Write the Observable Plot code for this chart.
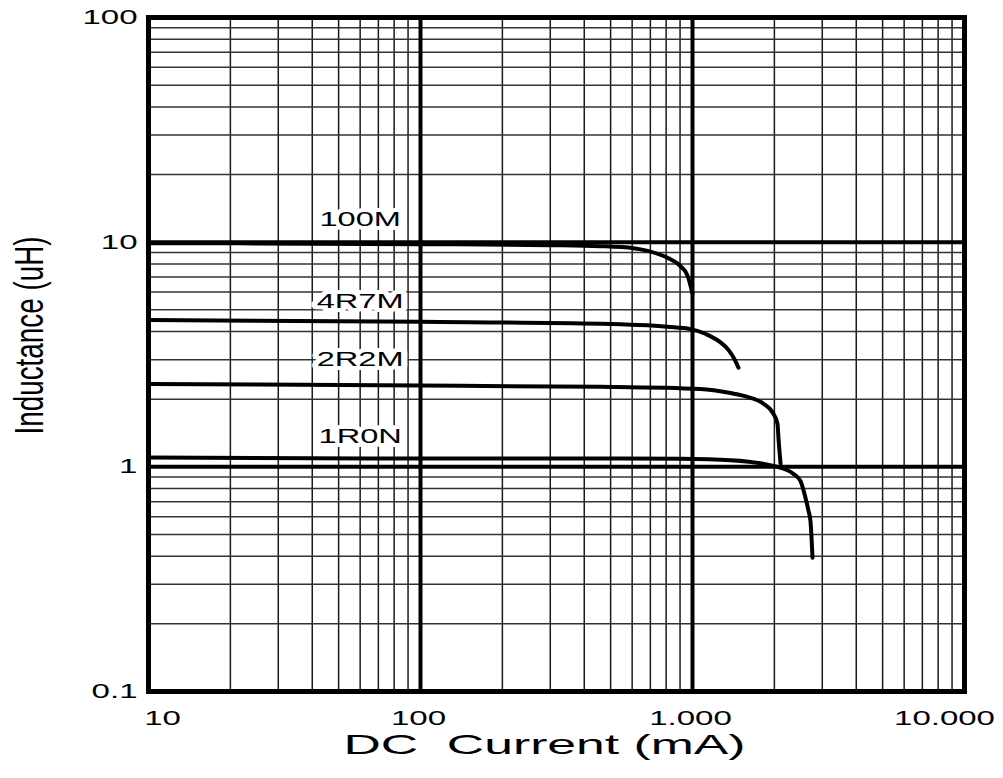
<!DOCTYPE html>
<html>
<head>
<meta charset="utf-8">
<script src="https://cdn.jsdelivr.net/npm/d3@7"></script>
<script src="https://cdn.jsdelivr.net/npm/@observablehq/plot@0.6"></script>
<style>
  html, body { margin: 0; padding: 0; background: #fff; }
  #chart svg { display: block; font-family: "Liberation Sans", Arial, sans-serif; }
</style>
</head>
<body>
<div id="chart"></div>
<script>
// ---- Data ----
const seriesNames = ["100M", "4R7M", "2R2M", "1R0N"];

const current100M = [10, 100, 300, 459, 607, 684, 809, 903, 959, 1000];
const induct100M  = [9.9, 9.8, 9.7, 9.6, 9.4, 9.15, 8.52, 7.83, 7.1, 5.89];

const current4R7M = [10, 100, 459, 809, 985, 1120, 1260, 1360, 1430, 1476];
const induct4R7M  = [4.5, 4.42, 4.33, 4.2, 4.1, 3.9, 3.6, 3.3, 3.0, 2.76];

const current2R2M = [10, 100, 459, 1069, 1380, 1592, 1824, 1985, 2054, 2070, 2108];
const induct2R2M  = [2.34, 2.3, 2.27, 2.22, 2.13, 2.05, 1.91, 1.72, 1.55, 1.35, 1.03];

const current1R0N = [10, 100, 459, 903, 1380, 1985, 2350, 2493, 2601, 2670, 2714, 2762];
const induct1R0N  = [1.1, 1.09, 1.09, 1.085, 1.07, 1.01, 0.93, 0.866, 0.73, 0.637, 0.575, 0.394];

// label anchors (data space)
const labelCurrent = [60, 60, 60, 60];
const labelInduct  = [12.7, 5.48, 3.02, 1.37];

const xTicks = [10, 100, 1000, 10000];
const xTickLabels = ["10", "100", "1.000", "10.000"];
const yTicks = [0.1, 1, 10, 100];
const yTickLabels = ["0.1", "1", "10", "100"];

const xMinor = [20,30,40,50,60,70,80,90,200,300,400,500,600,700,800,900,2000,3000,4000,5000,6000,7000,8000,9000];
const yMinor = [0.2,0.3,0.4,0.5,0.6,0.7,0.8,0.9,2,3,4,5,6,7,8,9,20,30,40,50,60,70,80,90];
const xMajor = [100, 1000];
const yMajor = [1, 10];

const xTitle = "DC  Current (mA)";
const yTitle = "Inductance (uH)";

// ---- Build table ----
const allCurrents = [current100M, current4R7M, current2R2M, current1R0N];
const allInducts = [induct100M, induct4R7M, induct2R2M, induct1R0N];
const rows = [];
seriesNames.forEach((s, k) => {
  allCurrents[k].forEach((c, i) => rows.push({series: s, I: c, L: allInducts[k][i]}));
});
const labels = seriesNames.map((s, i) => ({name: s, I: labelCurrent[i], L: labelInduct[i]}));

const chart = Plot.plot({
  width: 1003,
  height: 778,
  marginLeft: 148,
  marginRight: 39,
  marginTop: 17,
  marginBottom: 87,
  x: {type: "log", domain: [10, 10000], axis: null},
  y: {type: "log", domain: [0.1, 100], axis: null},
  marks: [
    Plot.ruleX(xMinor, {stroke: "#1a1a1a", strokeWidth: 1.5}),
    Plot.ruleY(yMinor, {stroke: "#333", strokeWidth: 1.5}),
    Plot.ruleX(xMajor, {stroke: "#000", strokeWidth: 4}),
    Plot.ruleY(yMajor, {stroke: "#000", strokeWidth: 4}),
    Plot.frame({stroke: "#000", strokeWidth: 5}),
    Plot.line(rows, {x: "I", y: "L", z: "series", stroke: "#000", strokeWidth: 4, curve: "monotone-x", strokeLinecap: "round"}),
    Plot.text(labels, {x: "I", y: "L", text: "name", fontSize: 21, fill: "#000", stroke: "#fff", strokeWidth: 8, className: "wide"}),
    // x tick labels
    Plot.text([xTicks[0]], {x: d => d, y: yTicks[0], text: () => xTickLabels[0], dy: 27, dx: 14, fontSize: 20, className: "wider"}),
    Plot.text(xTicks.slice(1, 3), {x: d => d, y: yTicks[0], text: (d, i) => xTickLabels[i + 1], dy: 27, dx: -2, fontSize: 20, className: "wider"}),
    Plot.text([xTicks[3]], {x: d => d, y: yTicks[0], text: () => xTickLabels[3], dy: 27, dx: -20, fontSize: 20, className: "wider"}),
    // y tick labels
    Plot.text(yTicks, {x: xTicks[0], y: d => d, text: (d, i) => yTickLabels[i], textAnchor: "end", dx: -11, fontSize: 20, className: "wider"}),
    // titles
    Plot.text([xTitle], {frameAnchor: "bottom", text: d => d, dy: 62, dx: -12, fontSize: 28, className: "xtitle"}),
    Plot.text([yTitle], {frameAnchor: "left", textAnchor: "middle", text: d => d, rotate: -90, dx: -118, dy: -19, fontSize: 40, className: "ytitle"})
  ]
});
document.getElementById("chart").appendChild(chart);

// stretch labels horizontally (reference uses an extended face)
function stretch(sel, k) {
  d3.select(chart).selectAll(sel).each(function() {
    const w = this.getComputedTextLength();
    this.setAttribute("textLength", (w * k).toFixed(1));
    this.setAttribute("lengthAdjust", "spacingAndGlyphs");
  });
}
stretch("g.wide text", 1.55);
stretch("g.wider text", 1.65);
d3.select(chart).selectAll("g.xtitle text").each(function() {
  this.style.whiteSpace = "pre";
  this.setAttribute("textLength", 402);
  this.setAttribute("lengthAdjust", "spacingAndGlyphs");
});
d3.select(chart).selectAll("g.ytitle text").each(function() {
  this.setAttribute("textLength", 198);
  this.setAttribute("lengthAdjust", "spacingAndGlyphs");
});
</script>
</body>
</html>
